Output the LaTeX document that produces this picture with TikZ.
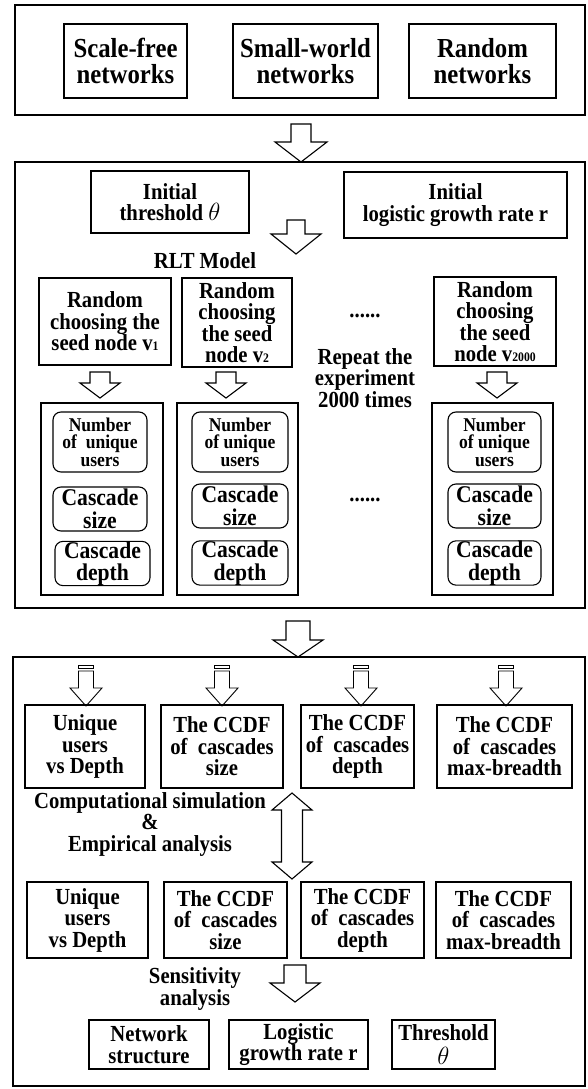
\documentclass[tikz,border=0pt]{standalone}
\usepackage{fontspec}
\setmainfont{Liberation Serif}[FakeStretch=0.9]

% text sizes
\newcommand\fBig{\fontsize{27.5}{26}\selectfont\bfseries}
\newcommand\fMid{\fontsize{23}{21.5}\selectfont\bfseries}
\newcommand\fCas{\fontsize{24}{22.5}\selectfont\bfseries}
\newcommand\fSml{\fontsize{19.5}{17.5}\selectfont\bfseries}
\newcommand\sub[1]{{\fontsize{13}{13}\selectfont #1}}

% box given by its corners: name, x1, y1, x2, y2, style, text
\newcommand\bx[7]{%
  \pgfmathsetmacro\bxcx{(#2+#4)/2}\pgfmathsetmacro\bxcy{(#3+#5)/2}%
  \pgfmathsetmacro\bxw{#4-#2}\pgfmathsetmacro\bxh{#5-#3}%
  \node[#6, minimum width=\bxw pt, minimum height=\bxh pt] (#1) at (\bxcx,\bxcy) {#7};}

% hollow block arrow pointing down: cx, ytop, ytip, shaft half width, head half width, head length
\newcommand\blkdown[6]{%
  \draw[blk] (#1-#4,#2) -- (#1+#4,#2) -- (#1+#4,#3-#6) -- (#1+#5,#3-#6) -- (#1,#3)
    -- (#1-#5,#3-#6) -- (#1-#4,#3-#6) -- cycle;}

% hollow double-headed block arrow: cx, ytop, ybottom, shaft half width, head half width, head length
\newcommand\blkboth[6]{%
  \draw[blk] (#1,#2) -- (#1+#5,#2+#6) -- (#1+#4,#2+#6) -- (#1+#4,#3-#6) -- (#1+#5,#3-#6)
    -- (#1,#3) -- (#1-#5,#3-#6) -- (#1-#4,#3-#6) -- (#1-#4,#2+#6) -- (#1-#5,#2+#6) -- cycle;}

% striped-tail block arrow
\newcommand\blkstripe[1]{%
  \draw[blk, line width=0.9pt] (#1-7.5,665) rectangle (#1+7.5,668);
  \draw[blk, line width=0.9pt] (#1-7.5,671) -- (#1+7.5,671) -- (#1+7.5,688) -- (#1+16,688) -- (#1,706)
    -- (#1-16,688) -- (#1-7.5,688) -- cycle;}

\begin{document}
\begin{tikzpicture}[x=1pt,y=-1pt,
  panel/.style={draw, line width=1.2pt, inner sep=0pt},
  bxA/.style={draw, line width=1.1pt, align=center, inner sep=0pt, font=\fBig},
  bxB/.style={draw, line width=1.1pt, align=center, inner sep=0pt, font=\fMid},
  rbC/.style={draw, line width=1.1pt, rounded corners=8pt, align=center, inner sep=0pt, font=\fCas},
  rbS/.style={draw, line width=1.1pt, rounded corners=8pt, align=center, inner sep=0pt, font=\fSml},
  lbl/.style={align=center, inner sep=0pt, font=\fMid},
  blk/.style={draw, line width=1.1pt, fill=white, line join=miter}]
\useasboundingbox (0,0) rectangle (587,1089);

% ---------- network types ----------
\bx{p1}{15}{5}{585}{115}{panel}{}
\bx{sf}{64}{24}{187}{98}{bxA}{Scale-free\\networks}
\bx{sw}{233}{24}{378}{98}{bxA}{Small-world\\networks}
\bx{rn}{409}{24}{556}{98}{bxA}{Random\\networks}

\blkdown{301}{124}{162}{10}{26}{20}

% ---------- RLT model runs ----------
\bx{p2}{15}{162}{585}{608}{panel}{}
\bx{th}{91}{171}{249}{233}{bxB}{Initial\\threshold\ $\theta$}
\bx{lg}{344}{172}{567}{238}{bxB}{Initial\\logistic growth rate r}
\blkdown{296}{220}{254}{9}{25}{20}
\node[lbl] (rlt) at (205,261) {RLT Model};

\bx{s1}{39}{278}{171}{365}{bxB}{Random\\choosing the\\seed node v\sub{1}}
\bx{s2}{182}{278}{292}{367}{bxB}{Random\\choosing\\the seed\\node v\sub{2}}
\bx{s3}{434}{277}{556}{366}{bxB}{Random\\choosing\\the seed\\node v\sub{2000}}
\node[lbl] (dots1) at (365,316) {......};
\node[lbl] (rep) at (365,378) {Repeat the\\experiment\\2000 times};

\blkdown{100}{372}{398}{10}{20}{15}
\blkdown{226}{372}{398}{10}{20}{15}
\blkdown{497}{372}{398}{10}{20}{15}

\bx{r1}{41}{403}{163}{595}{bxB}{}
\bx{r2}{177}{403}{298}{595}{bxB}{}
\bx{r3}{432}{403}{553}{595}{bxB}{}
\bx{n1}{53}{412}{147}{472}{rbS}{Number\\of\ \ unique\\users}
\bx{c1}{53}{487}{147}{531}{rbC}{Cascade\\size}
\bx{d1}{55}{542}{150}{585}{rbC}{Cascade\\depth}
\bx{n2}{192}{412}{288}{472}{rbS}{Number\\of unique\\users}
\bx{c2}{192}{484}{288}{528}{rbC}{Cascade\\size}
\bx{d2}{192}{541}{288}{585}{rbC}{Cascade\\depth}
\bx{n3}{448}{412}{541}{472}{rbS}{Number\\of unique\\users}
\bx{c3}{448}{484}{541}{528}{rbC}{Cascade\\size}
\bx{d3}{448}{541}{541}{585}{rbC}{Cascade\\depth}
\node[lbl] (dots2) at (365,500) {......};

\blkdown{298}{621}{657}{12}{25}{17}

% ---------- analysis ----------
\bx{p3}{13}{657}{585}{1086}{panel}{}
\blkstripe{86}
\blkstripe{222}
\blkstripe{361}
\blkstripe{506}

\bx{a1}{25}{705}{145}{788}{bxB}{Unique\\users\\vs Depth}
\bx{a2}{161}{705}{283}{788}{bxB}{The CCDF\\of\ \ cascades\\size}
\bx{a3}{301}{705}{414}{788}{bxB}{The CCDF\\of\ \ cascades\\depth}
\bx{a4}{437}{705}{572}{788}{bxB}{The CCDF\\of\ \ cascades\\max-breadth}

\blkboth{292}{793}{879}{10.5}{20}{17}
\node[lbl] (cmp) at (150,824) {Computational simulation\\\&\\Empirical analysis};

\bx{e1}{27}{882}{148}{958}{bxB}{Unique\\users\\vs Depth}
\bx{e2}{164}{882}{287}{958}{bxB}{The CCDF\\of\ \ cascades\\size}
\bx{e3}{301}{882}{424}{958}{bxB}{The CCDF\\of\ \ cascades\\depth}
\bx{e4}{436}{882}{571}{958}{bxB}{The CCDF\\of\ \ cascades\\max-breadth}

\blkdown{295}{965}{1002}{11}{25}{19}
\node[lbl] (sens) at (195,989) {Sensitivity\\analysis};

\bx{t1}{89}{1020}{209}{1069}{bxB}{Network\\structure}
\bx{t2}{229}{1020}{368}{1069}{bxB}{Logistic\\growth rate r}
\bx{t3}{392}{1020}{495}{1069}{bxB}{Threshold\\[3pt]$\theta$}
\end{tikzpicture}
\end{document}
